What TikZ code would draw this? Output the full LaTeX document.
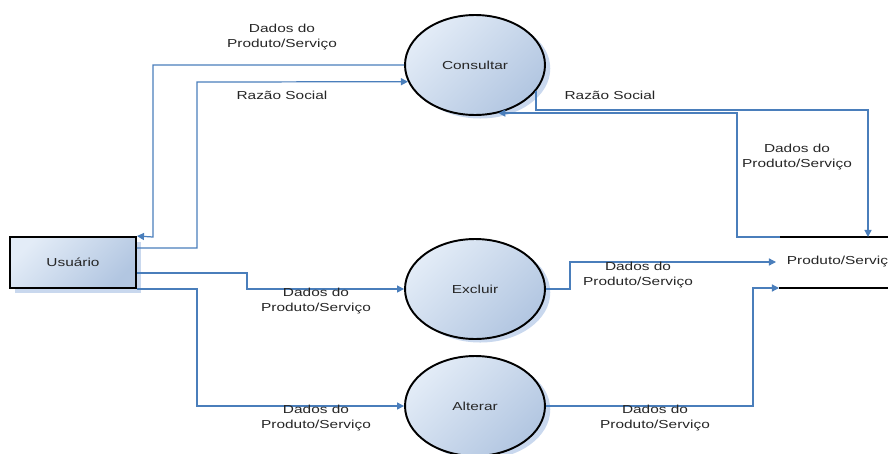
\documentclass[tikz,border=0pt]{standalone}
\usepackage{fontspec}
\setmainfont{Liberation Sans}[FakeStretch = 1.33]
\usetikzlibrary{arrows.meta, shapes.geometric, shadows}
\definecolor{flowblue}{HTML}{4A7EBB}
\definecolor{fillA}{HTML}{E3ECF7}
\definecolor{fillB}{HTML}{B2C6E1}
\definecolor{shadowblue}{HTML}{C9D8EE}
\definecolor{textgray}{HTML}{262626}

\tikzset{
  every node/.style = {font = \fontsize{6.6}{8.5}\selectfont, text = textgray, align = center},
  process/.style = {ellipse, draw, line width = 1.1pt,
    minimum width = 2.8cm, minimum height = 2cm,
    top color = fillA, bottom color = fillB, shading angle = 45,
    drop shadow = {fill = shadowblue, opacity = 1, shadow xshift = 3pt, shadow yshift = -2pt}},
  entity/.style = {rectangle, draw, line width = 1.1pt,
    minimum width = 2.52cm, minimum height = 1.02cm,
    top color = fillA, bottom color = fillB, shading angle = 45,
    drop shadow = {fill = shadowblue, opacity = 1, shadow xshift = 3pt, shadow yshift = -3pt}},
  flow/.style = {draw = flowblue, line width = 0.7pt, -{Triangle[length = 4pt, width = 4pt]}},
  datastore/.style = {line width = 1.1pt},
  lbl/.style = {inner sep = 0pt}
}

\begin{document}
\begin{tikzpicture}[x = 0.02cm, y = -0.02cm]
  \useasboundingbox (0, 0) rectangle (888, 453);
  % external entity and processes
  \node[entity] (usuario) at (73, 262.5) {Usuário};
  \node[process] (consultar) at (475, 65) {Consultar};
  \node[process] (excluir) at (475, 289) {Excluir};
  \node[process] (alterar) at (475, 406) {Alterar};
  % data store
  \node[anchor = west, inner xsep = 6pt] (produto) at (776, 262) {Produto/Serviço};
  \coordinate (storetl) at (780, 237);
  \coordinate (storetr) at (888, 237);
  \coordinate (storebl) at (779, 288);
  \coordinate (storebr) at (888, 288);
  \coordinate (storein) at (868, 237);
  \draw[datastore] (storetl) -- (storetr) (storebl) -- (storebr);
  % flows between Usuario and the processes
  \draw[flow] (consultar.west) -| (153, 237) -- (usuario.north east);
  \draw[flow] (usuario.east |- 0, 248) -| (197, 82) -- (consultar.194.5);
  \draw[flow] (usuario.east |- 0, 273) -| (247, 289) -- (excluir.west);
  \draw[flow] (usuario.south east) -| (197, 406) -- (alterar.west);
  % flows between the processes and the data store
  \draw[flow] (consultar.-23.3) |- (868, 110) -- (storein);
  \draw[flow] (storetl) -- (737, 237) |- (consultar.-64);
  \draw[flow] (excluir.east) -- (570, 289) |- (produto.west);
  \draw[flow] (alterar.east) -| (753, 288) -- (storebl);
  % flow labels
  \node[lbl] (dadosconsultar) at (282, 37) {Dados do\\Produto/Serviço};
  \node[lbl] (razaoconsultar) at (282, 95) {Razão Social};
  \node[lbl] (razaostore) at (610, 95) {Razão Social};
  \node[lbl] (dadosstore) at (797, 157) {Dados do\\Produto/Serviço};
  \node[lbl] (dadosexcluir) at (316, 301) {Dados do\\Produto/Serviço};
  \node[lbl] (dadosexcluido) at (638, 275) {Dados do\\Produto/Serviço};
  \node[lbl] (dadosalterar) at (316, 418) {Dados do\\Produto/Serviço};
  \node[lbl] (dadosalterado) at (655, 418) {Dados do\\Produto/Serviço};
\end{tikzpicture}
\end{document}
